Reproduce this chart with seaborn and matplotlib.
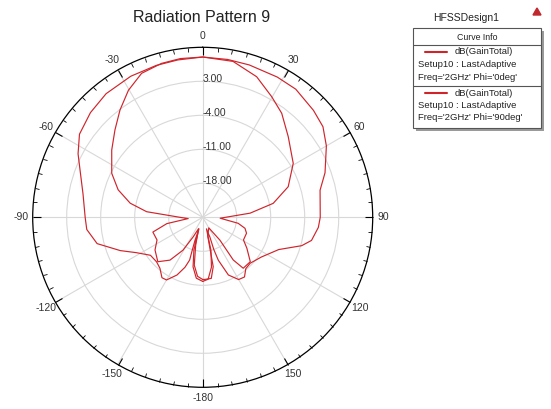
import numpy as np
import pandas as pd
import matplotlib
matplotlib.use("Agg")
import matplotlib.pyplot as plt
import seaborn as sns
from matplotlib.patches import Rectangle, Polygon

# ---- data (theta in deg, gain in dB) ----
phi0_theta = [-180, -174, -169, -165, -162, -161.5, -162.5, -163, -160.5, -156, -150, -146,
              -140, -134, -126, -118, -112, -104, -96, -90, -79, -70, -63, -56, -47, -38,
              -27, -17, -9, 0, 9, 17, 28, 36, 46, 53, 60, 70, 77, 90, 95, 102, 106, 113,
              124, 134, 140, 145, 150, 156, 160, 161, 160, 162, 166, 170, 175, 180]
phi0_gain = [-11.8, -12.4, -14.6, -18.0, -22.5, -20.0, -17.5, -15.8, -14.1, -12.0, -10.1, -10.0,
             -11.3, -11.8, -11.7, -9.5, -6.7, -2.6, -1.0, -0.8, 0.1, 1.8, 3.8, 5.6, 6.6, 7.3,
             7.6, 7.7, 7.8, 8.0, 7.9, 7.8, 7.7, 7.6, 6.7, 6.0, 4.4, 1.8, -0.2, -0.8, -1.1, -2.1,
             -3.8, -8.0, -10.4, -11.4, -11.2, -10.0, -10.2, -12.0, -15.6, -18.0, -20.7, -22.5,
             -18.0, -14.6, -12.2, -11.8]

phi90_theta = [-180, -175, -170, -166, -160, -154, -149, -142.6, -134.7, -124.4, -116.4, -106.5,
               -100, -95, -90, -84.3, -79, -72, -64.2, -53.5, -45.1, -37.6, -30.3, -23, -15, -8,
               0, 11, 21, 29.8, 37.2, 46.7, 59.2, 70.3, 78.8, 85, 93, 99.6, 104.6, 110, 119,
               125, 133, 141.5, 144.4, 143, 150, 165, 168, 172, 178, 180]
phi90_gain = [-12.2, -12.8, -15.0, -19.0, -22.5, -20.5, -17.1, -13.9, -12.0, -13.1, -14.5, -14.3,
              -17.5, -22.0, -20.3, -13.4, -9.8, -6.7, -4.2, -1.7, 0.5, 2.9, 5.3, 7.2, 7.8, 8.0,
              8.0, 7.7, 6.0, 3.6, 1.9, -0.8, -3.3, -6.3, -10.2, -15.2, -21.4, -17.6, -16.0,
              -15.4, -15.4, -13.9, -11.6, -11.6, -14.2, -19.1, -22.5, -21.0, -14.6, -12.3,
              -12.2, -12.2]

ring_values = [-18, -11, -4, 3]
ring_labels = ["-18.00", "-11.00", "-4.00", "3.00"]
angle_ticks = [0, 30, 60, 90, 120, 150, 180, 210, 240, 270, 300, 330]
angle_labels = ["0", "30", "60", "90", "120", "150", "-180", "-150", "-120", "-90", "-60", "-30"]

red = "#d0242b"
W, H = 551, 409

sns.set_theme(style="white")
plt.rcParams['font.family'] = ['Liberation Sans', 'DejaVu Sans']

fig = plt.figure(figsize=(W / 100, H / 100), dpi=100)
fig.patch.set_facecolor("white")

# polar axes: centre ~(203,217) px, radius ~170 px
cx, cy, rad = 202.7, 217.3, 170
ax = fig.add_axes([(cx - rad) / W, (H - cy - rad) / H, 2 * rad / W, 2 * rad / H],
                  projection="polar")
ax.set_theta_zero_location("N")
ax.set_theta_direction(-1)
ax.set_rlim(-25, 10)

df0 = pd.DataFrame({"theta": np.radians(phi0_theta), "gain": phi0_gain})
df90 = pd.DataFrame({"theta": np.radians(phi90_theta), "gain": phi90_gain})
sns.lineplot(data=df0, x="theta", y="gain", ax=ax, sort=False, estimator=None,
             color=red, lw=0.85)
sns.lineplot(data=df90, x="theta", y="gain", ax=ax, sort=False, estimator=None,
             color=red, lw=0.85)
ax.set_xlabel("")
ax.set_ylabel("")

# grid
ax.set_yticks(ring_values)
ax.set_yticklabels([])
ax.set_xticks(np.radians(angle_ticks))
ax.set_xticklabels(angle_labels, fontsize=7.5, color="#333333")
ax.set_xticks(np.radians(np.arange(0, 360, 5)), minor=True)
ax.grid(True, color="#d8d8d8", lw=0.8)
ax.tick_params(axis="x", which="both", bottom=False, top=True)
ax.tick_params(axis="x", which="major", direction="in", length=6, width=0.8,
               color="black", pad=1)
ax.tick_params(axis="x", which="minor", direction="in", length=3, width=0.6,
               color="black")
ax.spines["polar"].set_color("black")
ax.spines["polar"].set_linewidth(0.9)

for val, lab in zip(ring_values, ring_labels):
    ax.annotate(lab, xy=(0, val), xytext=(0, 2), textcoords="offset points",
                ha="left", va="center", fontsize=7.5, color="#333333")

# overlay in pixel coords for title + legend box
ov = fig.add_axes([0, 0, 1, 1], facecolor="none")
ov.set_xlim(0, W)
ov.set_ylim(H, 0)
ov.axis("off")

ov.text(202, 18, "Radiation Pattern 9", ha="center", va="center", fontsize=11.5,
        color="#222222")
ov.text(466, 18, "HFSSDesign1", ha="center", va="center", fontsize=7.5, color="#222222")
ov.add_patch(Polygon([[533, 15], [541, 15], [537, 8]], closed=True, color="#c0282d"))

# legend box with shadow
ov.add_patch(Rectangle((416, 31), 128, 100, facecolor="#9a9a9a", edgecolor="none"))
ov.add_patch(Rectangle((413, 28), 128, 100, facecolor="white", edgecolor="#555555", lw=0.8))
ov.plot([413, 541], [45, 45], color="#555555", lw=0.8)
ov.plot([413, 541], [86, 86], color="#555555", lw=0.8)
ov.text(477, 37, "Curve Info", ha="center", va="center", fontsize=6.3, color="#222222")

entries = [("dB(GainTotal)", "Setup10 : LastAdaptive", "Freq='2GHz' Phi='0deg'"),
           ("dB(GainTotal)", "Setup10 : LastAdaptive", "Freq='2GHz' Phi='90deg'")]
for i, (l1, l2, l3) in enumerate(entries):
    y0 = 52 + i * 41
    ov.plot([425, 447], [y0, y0], color=red, lw=1.5)
    ov.text(455, y0, l1, ha="left", va="center", fontsize=6.8, color="#222222")
    ov.text(418, y0 + 12.5, l2, ha="left", va="center", fontsize=6.8, color="#222222")
    ov.text(418, y0 + 25, l3, ha="left", va="center", fontsize=6.8, color="#222222")

fig.savefig("out.png", dpi=100)
